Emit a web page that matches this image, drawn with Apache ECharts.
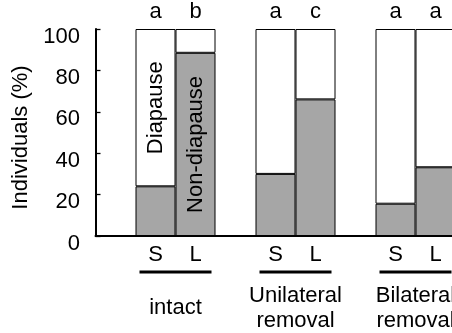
<!DOCTYPE html>
<html>
<head>
<meta charset="utf-8">
<script src="https://cdn.jsdelivr.net/npm/echarts@6/dist/echarts.min.js"></script>
<style>
html,body{margin:0;padding:0;background:#fff;overflow:hidden;width:452px;height:333px;}
#chart{width:480px;height:333px;}
</style>
</head>
<body>
<div id="chart"></div>
<script>
const categories = ['', 'S', 'L', '', 'S', 'L', '', 'S', 'L'];
const nonDiapause = [null, 24, 88.5, null, 30, 66, null, 15.6, 33.2];
const diapause = [null, 76, 11.5, null, 70, 34, null, 84.4, 66.8];
const letters = ['', 'a', 'b', '', 'a', 'c', '', 'a', 'a'];
const groups = ['intact', 'Unilateral\nremoval', 'Bilateral\nremoval'];
const diapauseText = ['', 'Diapause', '', '', '', '', '', '', ''];
const nonDiapauseText = ['', '', 'Non-diapause', '', '', '', '', '', ''];
const yMin = 0, yMax = 100, yStep = 20;
const yName = 'Individuals (%)';

const FONT = 'Liberation Sans, Arial, sans-serif';
const FS = 22;

function items(vals, texts) {
  return vals.map((v, i) => ({
    value: v,
    label: {
      show: !!texts[i],
      formatter: texts[i],
      position: 'inside',
      rotate: 90,
      fontSize: FS,
      fontFamily: FONT,
      color: '#000'
    }
  }));
}

const chart = echarts.init(document.getElementById('chart'), null, {renderer: 'canvas'});
chart.setOption({
  animation: false,
  textStyle: {fontFamily: FONT},
  grid: [
    {left: 95.5, right: 24.5, top: 29, bottom: 97},
    {left: 115.5, right: 4.5, top: 29, bottom: 97}
  ],
  xAxis: [
    {
      gridIndex: 0, type: 'category', data: categories, position: 'bottom',
      axisLine: {lineStyle: {color: '#000', width: 2}},
      axisTick: {show: false},
      axisLabel: {interval: 0, margin: 8, fontSize: FS, fontFamily: FONT, color: '#000'}
    },
    {
      gridIndex: 0, type: 'category', data: letters, position: 'top',
      axisLine: {show: false}, axisTick: {show: false},
      axisLabel: {interval: 0, margin: 6, fontSize: FS, fontFamily: FONT, color: '#000'}
    },
    {
      gridIndex: 1, type: 'category', data: groups, position: 'bottom',
      axisLine: {show: false}, axisTick: {show: false},
      axisLabel: {interval: 0, margin: 74, verticalAlign: 'middle', lineHeight: 25,
        fontSize: FS, fontFamily: FONT, color: '#000'}
    },
    {
      gridIndex: 1, type: 'category', data: groups, position: 'bottom',
      axisLine: {show: false}, axisTick: {show: false},
      axisLabel: {interval: 0, margin: 38, verticalAlign: 'middle',
        formatter: () => '{bar|}',
        rich: {bar: {width: 72, height: 3, lineHeight: 3, backgroundColor: '#000'}}}
    }
  ],
  yAxis: [
    {
      gridIndex: 0, type: 'value', min: yMin, max: yMax, interval: yStep,
      name: yName, nameLocation: 'middle', nameGap: 60,
      nameTextStyle: {fontSize: FS, fontFamily: FONT, color: '#000', padding: [0, 10, 0, 0]},
      axisLine: {show: true, lineStyle: {color: '#000', width: 2}},
      axisTick: {show: true, inside: true, length: 5, lineStyle: {color: '#000', width: 1.3}},
      splitLine: {show: false},
      axisLabel: {margin: 15.5, fontSize: FS, fontFamily: FONT, color: '#000',
        verticalAlign: 'top', lineHeight: 15}
    },
    {gridIndex: 1, type: 'value', min: yMin, max: yMax, show: false}
  ],
  series: [
    {
      name: 'Non-diapause', type: 'bar', stack: 'all', xAxisIndex: 0, yAxisIndex: 0,
      barWidth: '100%',
      itemStyle: {color: '#a6a6a6', borderColor: '#000', borderWidth: 1},
      data: items(nonDiapause, nonDiapauseText)
    },
    {
      name: 'Diapause', type: 'bar', stack: 'all', xAxisIndex: 0, yAxisIndex: 0,
      barWidth: '100%',
      itemStyle: {color: '#ffffff', borderColor: '#000', borderWidth: 1},
      data: items(diapause, diapauseText)
    }
  ]
});
</script>
</body>
</html>
